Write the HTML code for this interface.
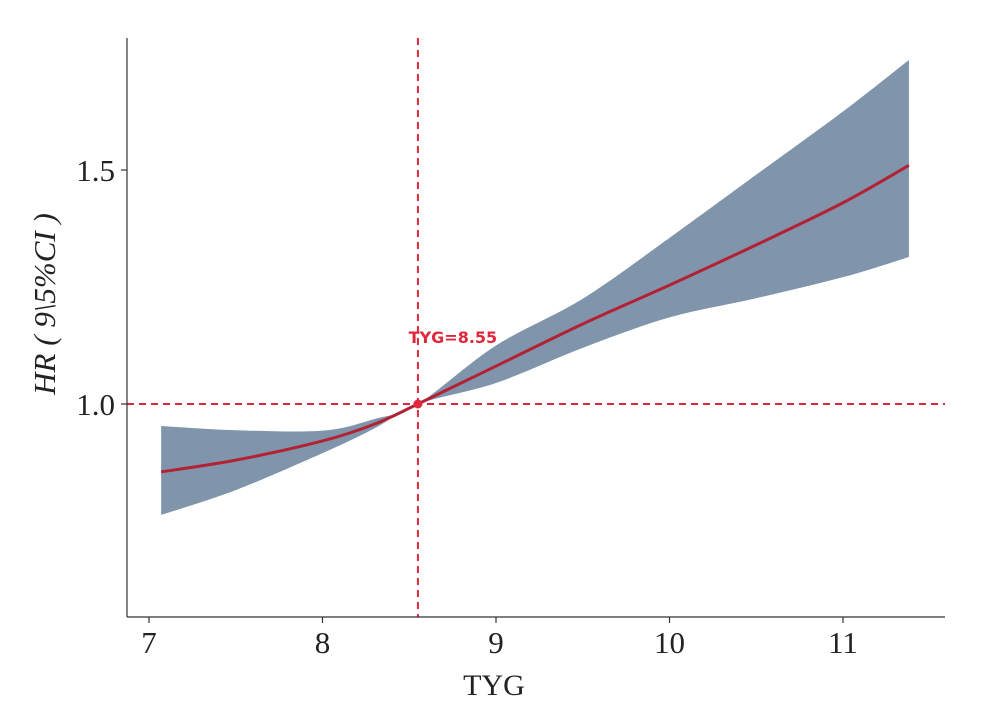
<!DOCTYPE html>
<html><head><meta charset="utf-8">
<style>
html,body{margin:0;padding:0;background:#fff;}
svg{display:block;}
</style></head>
<body>
<svg id="chart" width="982" height="703" xmlns="http://www.w3.org/2000/svg"></svg>
<script>
const xs = [7.07, 7.5, 8.0, 8.3, 8.55, 9.0, 9.5, 10, 10.5, 11, 11.38];
const hr = [0.855, 0.880, 0.921, 0.957, 1.0, 1.081, 1.171, 1.254, 1.34, 1.43, 1.51];
const upper = [0.953, 0.944, 0.943, 0.968, 1.0, 1.125, 1.225, 1.355, 1.49, 1.625, 1.735];
const lower = [0.763, 0.816, 0.895, 0.948, 1.0, 1.045, 1.12, 1.185, 1.226, 1.271, 1.314];
const xTicks = [7, 8, 9, 10, 11];
const yTicks = [1.0, 1.5];
const yTickLabels = ["1.0", "1.5"];
const cutoff = 8.55;
const refHR = 1.0;

const NS = "http://www.w3.org/2000/svg";
const svg = document.getElementById("chart");
const X = v => 149 + (v - 7) * 173.5;
const Y = v => 404 - (v - 1.0) * 468;

function el(tag, attrs, parent) {
  const e = document.createElementNS(NS, tag);
  for (const k in attrs) e.setAttribute(k, attrs[k]);
  (parent || svg).appendChild(e);
  return e;
}
function smooth(pts) {
  let d = "M" + pts[0][0] + "," + pts[0][1];
  for (let i = 0; i < pts.length - 1; i++) {
    const p0 = pts[Math.max(i - 1, 0)], p1 = pts[i], p2 = pts[i + 1], p3 = pts[Math.min(i + 2, pts.length - 1)];
    const c1x = p1[0] + (p2[0] - p0[0]) / 6, c1y = p1[1] + (p2[1] - p0[1]) / 6;
    const c2x = p2[0] - (p3[0] - p1[0]) / 6, c2y = p2[1] - (p3[1] - p1[1]) / 6;
    d += " C" + c1x + "," + c1y + " " + c2x + "," + c2y + " " + p2[0] + "," + p2[1];
  }
  return d;
}
const up = xs.map((x, i) => [X(x), Y(upper[i])]);
const lo = xs.map((x, i) => [X(x), Y(lower[i])]).reverse();
const band = el("path", {d: smooth(up) + " L" + smooth(lo).slice(1) + " Z", fill: "#8095ab", stroke: "none"});



const line = el("path", {d: smooth(xs.map((x, i) => [X(x), Y(hr[i])])), fill: "none", stroke: "#b22234", "stroke-width": 3});



const vline = el("line", {x1: X(cutoff), x2: X(cutoff), y1: 38, y2: 617, stroke: "#e0283c", "stroke-width": 2, "stroke-dasharray": "7,5"});


const hline = el("line", {x1: 127, x2: 945, y1: Y(refHR), y2: Y(refHR), stroke: "#e0283c", "stroke-width": 2, "stroke-dasharray": "7,5"});


const pt = el("circle", {cx: X(cutoff), cy: Y(refHR), r: 4.5, fill: "#e0283c"});


const lab = el("text", {x: X(cutoff) + 35, y: 343, "text-anchor": "middle", fill: "#e0283c", "font-family": "DejaVu Sans, sans-serif", "font-size": 16, "font-weight": "bold"});
lab.textContent = "TYG=" + cutoff.toFixed(2);



const xa = el("line", {x1: 127, x2: 945, y1: 617, y2: 617, stroke: "#333", "stroke-width": 1.2});


const ya = el("line", {x1: 127, x2: 127, y1: 38, y2: 617, stroke: "#333", "stroke-width": 1.2});



xTicks.forEach(t => {
  const tk = el("line", {x1: X(t), x2: X(t), y1: 617, y2: 623, stroke: "#333", "stroke-width": 1.2});
  
  
  const tx = el("text", {x: X(t), y: 653, "text-anchor": "middle", "font-family": "Liberation Serif, serif", "font-size": 31, fill: "#222"});
  tx.textContent = t;
  
  
});
yTicks.forEach((t, i) => {
  const tk = el("line", {x1: 121, x2: 127, y1: Y(t), y2: Y(t), stroke: "#333", "stroke-width": 1.2});
  
  
  const tx = el("text", {x: 115, y: Y(t) + 11, "text-anchor": "end", "font-family": "Liberation Serif, serif", "font-size": 31, fill: "#222"});
  tx.textContent = yTickLabels[i];
  
  
});
const xt = el("text", {x: 494, y: 695, "text-anchor": "middle", "font-family": "Liberation Serif, serif", "font-size": 30, fill: "#222"});
xt.textContent = "TYG";


const yt = el("text", {x: 0, y: 0, transform: "translate(55,304) rotate(-90)", "text-anchor": "middle", "font-family": "Liberation Serif, serif", "font-size": 31, "font-style": "italic", fill: "#222", "xml:space": "preserve"});
yt.textContent = "HR ( 9\\5%CI )";


</script>
</body></html>
